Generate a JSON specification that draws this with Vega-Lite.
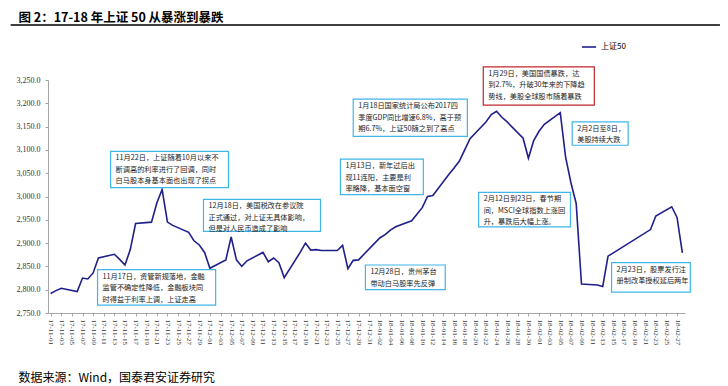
{
  "$schema": "https://vega.github.io/schema/vega-lite/v6.json",
  "width": 637,
  "height": 233,
  "autosize": "none",
  "padding": {"left": 48, "top": 80, "right": 43, "bottom": 73},
  "background": "white",
  "config": {"view": {"stroke": null}, "font": "Noto Sans CJK SC"},
  "datasets": {
    "index": [
      {"date": "2017-11-01", "value": 2792}, {"date": "2017-11-02", "value": 2798}, {"date": "2017-11-03", "value": 2803},
      {"date": "2017-11-06", "value": 2796}, {"date": "2017-11-07", "value": 2825}, {"date": "2017-11-08", "value": 2823},
      {"date": "2017-11-09", "value": 2836}, {"date": "2017-11-10", "value": 2868}, {"date": "2017-11-13", "value": 2876},
      {"date": "2017-11-14", "value": 2865}, {"date": "2017-11-15", "value": 2853}, {"date": "2017-11-16", "value": 2886},
      {"date": "2017-11-17", "value": 2942}, {"date": "2017-11-20", "value": 2945}, {"date": "2017-11-21", "value": 2986},
      {"date": "2017-11-22", "value": 3015}, {"date": "2017-11-23", "value": 2945}, {"date": "2017-11-24", "value": 2938},
      {"date": "2017-11-27", "value": 2923}, {"date": "2017-11-28", "value": 2905}, {"date": "2017-11-29", "value": 2896},
      {"date": "2017-11-30", "value": 2880}, {"date": "2017-12-01", "value": 2846}, {"date": "2017-12-04", "value": 2864},
      {"date": "2017-12-05", "value": 2913}, {"date": "2017-12-06", "value": 2864}, {"date": "2017-12-07", "value": 2850},
      {"date": "2017-12-08", "value": 2862}, {"date": "2017-12-11", "value": 2880}, {"date": "2017-12-12", "value": 2860},
      {"date": "2017-12-13", "value": 2868}, {"date": "2017-12-14", "value": 2858}, {"date": "2017-12-15", "value": 2826},
      {"date": "2017-12-18", "value": 2880}, {"date": "2017-12-19", "value": 2900}, {"date": "2017-12-20", "value": 2885},
      {"date": "2017-12-21", "value": 2886}, {"date": "2017-12-22", "value": 2884}, {"date": "2017-12-25", "value": 2884},
      {"date": "2017-12-26", "value": 2895}, {"date": "2017-12-27", "value": 2845}, {"date": "2017-12-28", "value": 2863},
      {"date": "2017-12-29", "value": 2864}, {"date": "2018-01-02", "value": 2911}, {"date": "2018-01-03", "value": 2918},
      {"date": "2018-01-04", "value": 2928}, {"date": "2018-01-05", "value": 2935}, {"date": "2018-01-08", "value": 2948},
      {"date": "2018-01-09", "value": 2962}, {"date": "2018-01-10", "value": 2976}, {"date": "2018-01-11", "value": 3000},
      {"date": "2018-01-12", "value": 3002}, {"date": "2018-01-15", "value": 3047}, {"date": "2018-01-16", "value": 3061},
      {"date": "2018-01-17", "value": 3076}, {"date": "2018-01-18", "value": 3100}, {"date": "2018-01-19", "value": 3124},
      {"date": "2018-01-22", "value": 3160}, {"date": "2018-01-23", "value": 3176}, {"date": "2018-01-24", "value": 3183},
      {"date": "2018-01-25", "value": 3170}, {"date": "2018-01-26", "value": 3160}, {"date": "2018-01-29", "value": 3125},
      {"date": "2018-01-30", "value": 3082}, {"date": "2018-01-31", "value": 3120}, {"date": "2018-02-01", "value": 3140},
      {"date": "2018-02-02", "value": 3155}, {"date": "2018-02-05", "value": 3180}, {"date": "2018-02-06", "value": 3085},
      {"date": "2018-02-07", "value": 3030}, {"date": "2018-02-08", "value": 2985}, {"date": "2018-02-09", "value": 2812},
      {"date": "2018-02-12", "value": 2810}, {"date": "2018-02-13", "value": 2807}, {"date": "2018-02-14", "value": 2872},
      {"date": "2018-02-22", "value": 2929}, {"date": "2018-02-23", "value": 2958}, {"date": "2018-02-26", "value": 2978},
      {"date": "2018-02-27", "value": 2955}, {"date": "2018-02-28", "value": 2879}
    ],
    "notes": [
      {"x1": "2017-11-12T07:00:00Z", "x2": "2017-12-04T12:00:00Z", "y1": 3097, "y2": 3019, "kind": "normal", "text": "11月22日，上证随着10月以来不|断调高的利率进行了回调，同时|白马股本身基本面也出现了拐点"},
      {"x1": "2017-11-09T20:00:00Z", "x2": "2017-12-02T02:00:00Z", "y1": 2843, "y2": 2767, "kind": "normal", "text": "11月17日，资管新规落地，金融|监管不确定性降低，金融板块同|时得益于利率上调，上证走高"},
      {"x1": "2017-11-29T19:00:00Z", "x2": "2017-12-21T20:00:00Z", "y1": 2994, "y2": 2925, "kind": "normal", "text": "12月18日，美国税改在参议院|正式通过，对上证无具体影响，|但是对人民币造成了影响"},
      {"x1": "2017-12-30T07:00:00Z", "x2": "2018-01-14T08:00:00Z", "y1": 2853, "y2": 2800, "kind": "normal", "text": "12月28日，贵州茅台|带动白马股率先反弹"},
      {"x1": "2017-12-25T14:00:00Z", "x2": "2018-01-10T05:00:00Z", "y1": 3080, "y2": 3004, "kind": "normal", "text": "1月13日，新年过后出|现11连阳，主要是利|率略降，基本面空窗"},
      {"x1": "2017-12-28T00:00:00Z", "x2": "2018-01-18T12:00:00Z", "y1": 3209, "y2": 3129, "kind": "normal", "text": "1月18日国家统计局公布2017四|季度GDP同比增速6.8%，高于预|期6.7%，上证50随之到了高点"},
      {"x1": "2018-01-21T12:00:00Z", "x2": "2018-02-11T10:00:00Z", "y1": 3278, "y2": 3196, "kind": "alert", "text": "1月29日，美国国债暴跌，达|到2.7%，升破30年来的下降趋|势线，美股全球股市随着暴跌"},
      {"x1": "2018-02-07T06:00:00Z", "x2": "2018-02-17T19:00:00Z", "y1": 3160, "y2": 3110, "kind": "normal", "text": "2月2日至8日，|美股持续大跌"},
      {"x1": "2018-01-20T15:00:00Z", "x2": "2018-02-06T22:00:00Z", "y1": 3009, "y2": 2935, "kind": "normal", "text": "2月12日到23日，春节期|间，MSCI全球指数上涨回|升，暴跌后大幅上涨。"},
      {"x1": "2018-02-14T16:00:00Z", "x2": "2018-03-01T12:00:00Z", "y1": 2858, "y2": 2795, "kind": "normal", "text": "2月23日，股票发行注|册制改革授权延后两年"}
    ]
  },
  "layer": [
    {
      "data": {"name": "index"},
      "mark": {"type": "line", "strokeWidth": 1.6, "clip": false},
      "encoding": {
        "x": {
          "field": "date", "type": "temporal",
          "scale": {"type": "utc", "domain": [1509451200000, 1519819200000], "nice": false},
          "axis": {
            "title": "数据来源：Wind，国泰君安证券研究",
            "titleFont": "Noto Sans CJK SC", "titleFontSize": 12, "titleFontWeight": "normal", "titleColor": "#000000",
            "titleAnchor": "start", "titleAlign": "left", "titleX": -30, "titleY": 64, "titleBaseline": "middle", "titleAngle": 0,
            "tickCount": {"interval": "day", "step": 1},
            "format": "%y-%m-%d",
            "labelExpr": "round((time(datum.value) - 1509494400000) / 86400000) % 2 == 0 ? datum.label : ''",
            "tickOpacity": {"condition": {"test": "round((time(datum.value) - 1509494400000) / 86400000) % 2 == 0", "value": 1}, "value": 0},
            "labelAngle": 90, "labelAlign": "left", "labelBaseline": "middle", "labelFont": "Liberation Serif", "labelFontSize": 7, "labelColor": "#333333",
            "labelOverlap": false, "labelPadding": 3, "labelFlush": false,
            "domainColor": "#a6a6a6", "domainWidth": 1, "tickColor": "#a6a6a6", "tickSize": 3, "grid": false
          }
        },
        "y": {
          "field": "value", "type": "quantitative",
          "scale": {"domain": [2750, 3250], "nice": false, "zero": false},
          "axis": {
            "title": "图 2：17-18 年上证 50 从暴涨到暴跌",
            "titleFont": "Noto Sans CJK SC", "titleFontSize": 12.5, "titleFontWeight": "bold", "titleColor": "#000000",
            "titleAngle": 0, "titleAlign": "left", "titleBaseline": "alphabetic", "titleX": -30, "titleY": -59,
            "tickCount": 11,
            "labelOverlap": false,
            "format": ",.1f", "labelFont": "Liberation Serif", "labelFontSize": 8, "labelColor": "#333333", "labelPadding": 5,
            "domainColor": "#a6a6a6", "tickColor": "#a6a6a6", "tickSize": 3, "grid": false
          }
        },
        "color": {
          "datum": "上证50",
          "scale": {"range": ["#1f1f8c"]},
          "legend": {
            "title": null, "orient": "none", "legendX": 533, "legendY": -41,
            "symbolType": "stroke", "symbolStrokeWidth": 1.6, "symbolSize": 200,
            "labelFont": "Noto Sans CJK SC", "labelFontSize": 8, "labelColor": "#000000", "padding": 0
          }
        }
      }
    },
    {
      "data": {"name": "notes"},
      "mark": {"type": "rect", "fill": "white", "strokeWidth": 1.2, "clip": false},
      "encoding": {
        "x": {"field": "x1", "type": "temporal"},
        "x2": {"field": "x2"},
        "y": {"field": "y1", "type": "quantitative"},
        "y2": {"field": "y2"},
        "stroke": {"field": "kind", "type": "nominal", "scale": {"domain": ["normal", "alert"], "range": ["#3fb6e8", "#c0282d"]}, "legend": null},
        "strokeDash": {"field": "kind", "type": "nominal", "scale": {"domain": ["normal", "alert"], "range": [[1.5, 1], [3, 1.5]]}, "legend": null}
      }
    },
    {
      "data": {"name": "notes"},
      "mark": {"type": "text", "align": "left", "baseline": "top", "dx": 5, "dy": 3, "fontSize": 7.2, "lineHeight": 11.5, "lineBreak": "|", "font": "Noto Sans CJK SC", "color": "#222222", "clip": false},
      "encoding": {
        "x": {"field": "x1", "type": "temporal"},
        "y": {"field": "y1", "type": "quantitative"},
        "text": {"field": "text"}
      }
    },
    {
      "data": {"values": [{}]},
      "mark": {"type": "rule", "clip": false, "color": "#000000", "strokeWidth": 1.5},
      "encoding": {
        "x": {"datum": {"year": 2017, "month": 10, "date": 24, "hours": 11, "utc": true}, "type": "temporal"},
        "x2": {"datum": {"year": 2018, "month": 3, "date": 7, "hours": 2, "utc": true}},
        "y": {"datum": 3368, "type": "quantitative"}
      }
    }
  ]
}
